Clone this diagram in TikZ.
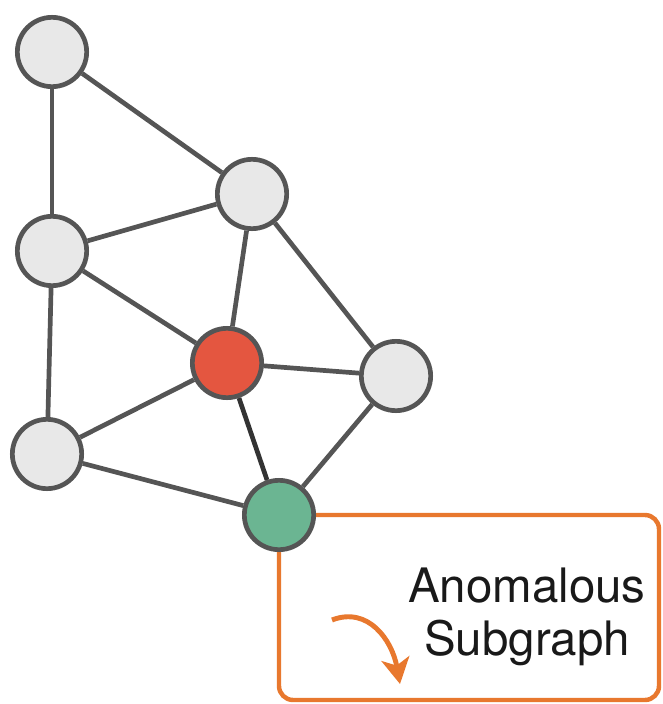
\documentclass[tikz,border=0pt]{standalone}
\usepackage{fontspec}
\setmainfont{TeX Gyre Heros}
\usetikzlibrary{arrows.meta}
\definecolor{nodegray}{HTML}{E8E8E8}
\definecolor{edgegray}{HTML}{555555}
\definecolor{anomred}{HTML}{E45640}
\definecolor{anomgreen}{HTML}{6BB592}
\definecolor{anomorange}{HTML}{E8782E}

\begin{document}
\begin{tikzpicture}[x=0.03cm,y=-0.03cm,-]
                \tikzstyle{vertex}=[circle,draw=edgegray,fill=nodegray,line width=4pt,minimum size=2.08cm,inner sep=0pt]
                \tikzstyle{link}=[draw=edgegray,line width=4pt]
                \useasboundingbox (0,0) rectangle (662,704);

                \draw[anomorange,line width=3.8pt,rounded corners=12pt] (279,515) rectangle (659,700);

                \foreach \num/\x/\y in {a/52/52, b/252/194, c/52/251, e/396/376, f/47/454}
                        \node[vertex] (V-\num) at (\x,\y) {};
                \node[vertex,fill=anomred] (V-d) at (227,363) {};
                \node[vertex,fill=anomgreen] (V-g) at (279,515) {};

                    \foreach \from/\to in {a/b, a/c, c/b, c/d, b/d, b/e, d/e, c/f, f/d, f/g, e/g}
                        \draw[link] (V-\from) -- (V-\to);
                    \draw[link,draw=black!80] (V-d) -- (V-g);

                    \node[align=center,font=\fontsize{40.5}{45}\selectfont,text=black!90] (label) at (527,617) {Anomalous\\Subgraph};

                    \coordinate (arr-s) at (332,620);
                    \coordinate (arr-e) at (400,684);
                    \draw[anomorange,line width=4.2pt,-{Stealth[length=22pt,width=24pt,inset=6pt]}] (arr-s) .. controls (368,606) and (392,640) .. (arr-e);
            \end{tikzpicture}
\end{document}
